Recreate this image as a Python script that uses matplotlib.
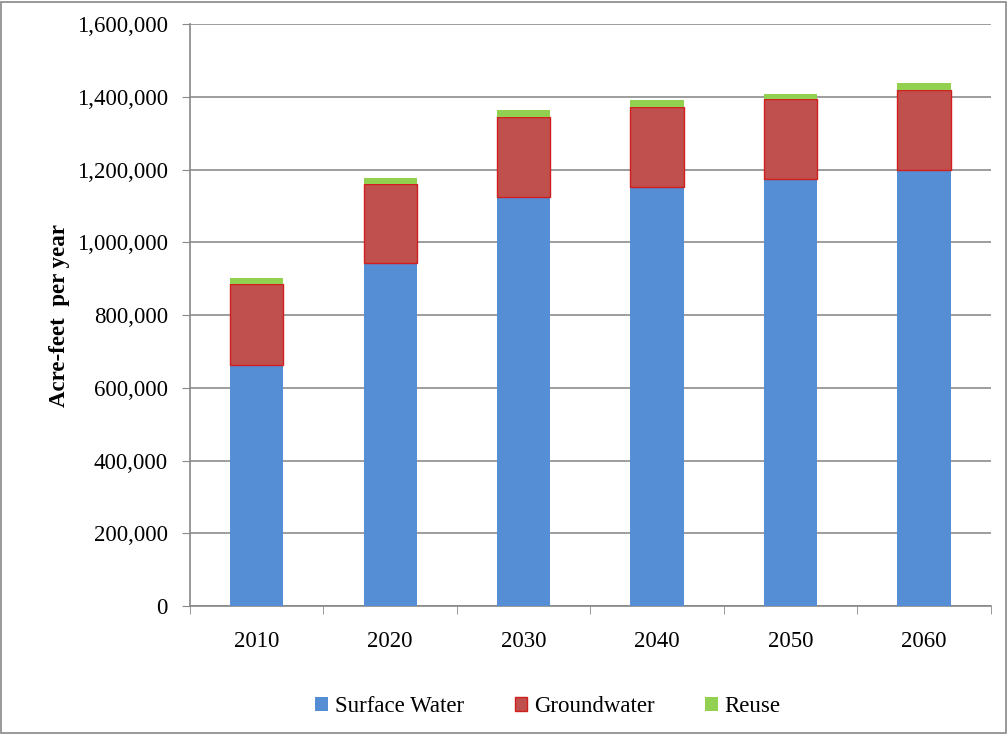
import matplotlib.pyplot as plt
from matplotlib.patches import Rectangle
from matplotlib.ticker import FuncFormatter, FixedLocator
import numpy as np

# --- Data (acre-feet per year) ---
years = ["2010", "2020", "2030", "2040", "2050", "2060"]
surface_water = [662000, 942000, 1125000, 1152000, 1173000, 1198000]
groundwater = [223000, 218000, 220000, 220000, 220000, 222000]
reuse = [16000, 18000, 18000, 19000, 16000, 17000]

plt.rcParams['font.family'] = ['Liberation Serif', 'DejaVu Serif']
plt.rcParams['font.size'] = 16.5

fig = plt.figure(figsize=(10.08, 7.34), dpi=100)
ax = fig.add_axes([0.1885, 0.1744, 0.7945, 0.7926])

x = np.arange(len(years))
w = 0.40
sw = np.array(surface_water)
gw = np.array(groundwater)

ax.bar(x, sw, w, color='#558ED5', label='Surface Water', zorder=3)
ax.bar(x, gw, w, bottom=sw, color='#C0504D', edgecolor='#D01F1F',
       linewidth=1.0, label='Groundwater', zorder=3)
ax.bar(x, reuse, w, bottom=sw + gw, color='#92D050', label='Reuse', zorder=3)

ax.set_xlim(-0.5, len(years) - 0.5)
ax.set_ylim(0, 1600000)
ax.set_yticks(np.arange(0, 1600001, 200000))
ax.yaxis.set_major_formatter(FuncFormatter(lambda v, p: f"{int(v):,}"))
ax.set_xticks(x)
ax.set_xticklabels(years)
ax.xaxis.set_minor_locator(FixedLocator(np.arange(-0.5, len(years), 1.0)))
ax.tick_params(axis='x', which='major', length=0, pad=18)
ax.tick_params(axis='x', which='minor', length=6, color='#888888', direction='out')
ax.tick_params(axis='y', length=6, color='#888888', pad=10)

ax.grid(axis='y', color='#8C8C8C', linewidth=1.2, zorder=0)
for s in ['top', 'right']:
    ax.spines[s].set_visible(False)
for s in ['left', 'bottom']:
    ax.spines[s].set_color('#888888')
    ax.spines[s].set_linewidth(1.2)

ax.set_ylabel("Acre-feet  per year", fontweight='bold', labelpad=5)

fig.legend(loc='center', bbox_to_anchor=(548 / 1008, 1 - 707 / 734), ncol=3,
           frameon=False, handlelength=0.55, handleheight=0.55,
           handletextpad=0.3, columnspacing=2.2)

fig.patches.append(Rectangle((0.001, 0.002), 0.997, 0.995, transform=fig.transFigure,
                             fill=False, edgecolor='#888888', linewidth=1.2))

fig.savefig("out.png", dpi=100)
